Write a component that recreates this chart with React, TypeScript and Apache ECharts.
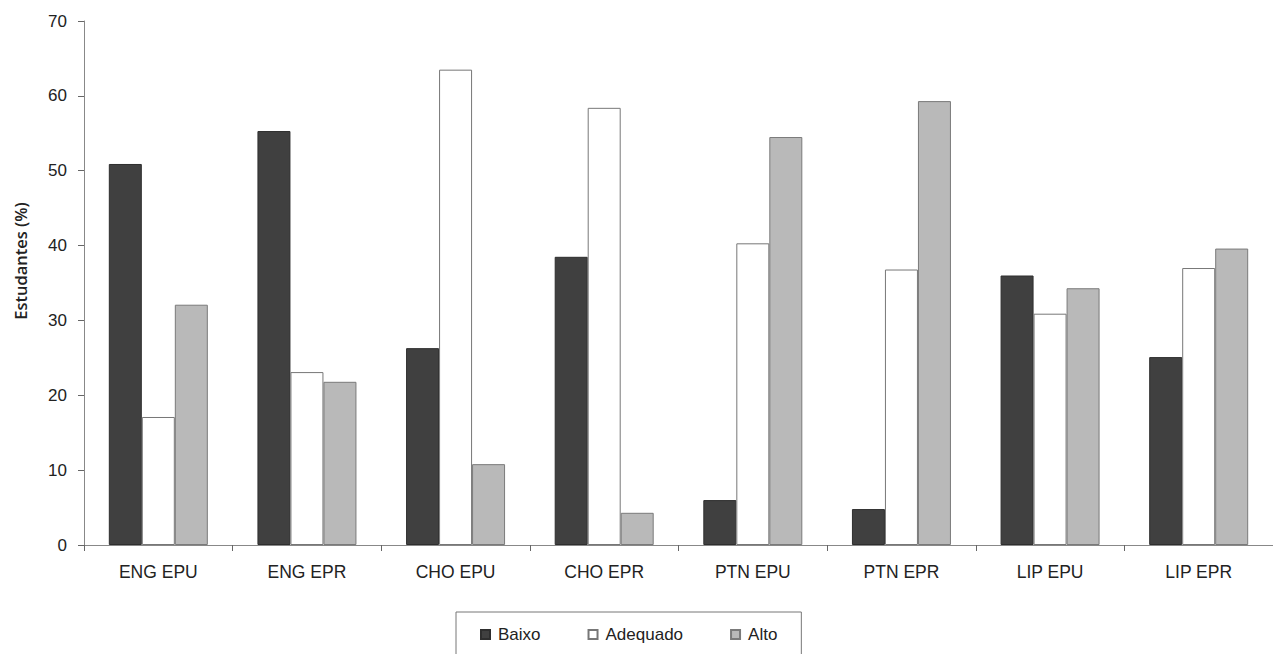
import React, { useEffect, useRef } from "react";
import * as echarts from "echarts";

const categories = ["ENG EPU", "ENG EPR", "CHO EPU", "CHO EPR", "PTN EPU", "PTN EPR", "LIP EPU", "LIP EPR"];
const baixo = [50.9, 55.3, 26.3, 38.5, 6.0, 4.8, 36.0, 25.1];
const adequado = [17.1, 23.1, 63.5, 58.4, 40.3, 36.8, 30.9, 37.0];
const alto = [32.1, 21.8, 10.8, 4.3, 54.5, 59.3, 34.3, 39.6];
const yTicks = { min: 0, max: 70, interval: 10 };

export default function App() {
  const ref = useRef<HTMLDivElement>(null);
  useEffect(() => {
    if (!ref.current) return;
    const chart = echarts.init(ref.current, undefined, { renderer: "svg" });
    const font = "Liberation Sans, Arial, sans-serif";
    chart.setOption({
      animation: false,
      backgroundColor: "#ffffff",
      grid: { left: 84, top: 21, bottom: 109, right: -9, containLabel: false },
      legend: {
        data: ["Baixo", "Adequado", "Alto"],
        left: 456,
        top: 612,
        padding: [14, 24, 30, 24],
        borderColor: "#777",
        borderWidth: 1,
        itemWidth: 9,
        itemHeight: 9,
        itemGap: 47,
        icon: "rect",
        textStyle: { fontFamily: font, fontSize: 17, color: "#222", padding: [0, 0, 0, 3] },
      },
      xAxis: {
        type: "category",
        data: categories,
        axisLine: { show: true, lineStyle: { color: "#888", width: 1 } },
        axisTick: { show: true, length: 6, lineStyle: { color: "#666" } },
        axisLabel: { fontFamily: font, fontSize: 17.5, color: "#222", margin: 18 },
        splitLine: { show: false },
      },
      yAxis: {
        type: "value",
        min: yTicks.min,
        max: yTicks.max,
        interval: yTicks.interval,
        axisLine: { show: true, lineStyle: { color: "#888", width: 1 } },
        axisTick: { show: true, length: 6, lineStyle: { color: "#666" } },
        axisLabel: { fontFamily: font, fontSize: 17, color: "#222", margin: 17 },
        splitLine: { show: false },
      },
      graphic: [
        {
          type: "text",
          x: 20,
          y: 261,
          rotation: Math.PI / 2,
          style: {
            text: "Estudantes (%)",
            fontFamily: "Open Sans, sans-serif",
            fontWeight: 600,
            fontSize: 16.5,
            fill: "#222",
            align: "center",
            verticalAlign: "middle",
          },
        },
      ],
      series: [
        {
          name: "Baixo",
          type: "bar",
          data: baixo,
          barWidth: 33,
          barGap: "0%",
          itemStyle: { color: "#404040", borderColor: "#2e2e2e", borderWidth: 1 },
        },
        {
          name: "Adequado",
          type: "bar",
          data: adequado,
          barWidth: 33,
          barGap: "0%",
          itemStyle: { color: "#ffffff", borderColor: "#777", borderWidth: 1 },
        },
        {
          name: "Alto",
          type: "bar",
          data: alto,
          barWidth: 33,
          barGap: "0%",
          itemStyle: { color: "#b9b9b9", borderColor: "#7a7a7a", borderWidth: 1 },
        },
      ],
    });
    return () => chart.dispose();
  }, []);
  return <div ref={ref} style={{ width: 1273, height: 654, position: "absolute", left: 0, top: 0 }} />;
}
